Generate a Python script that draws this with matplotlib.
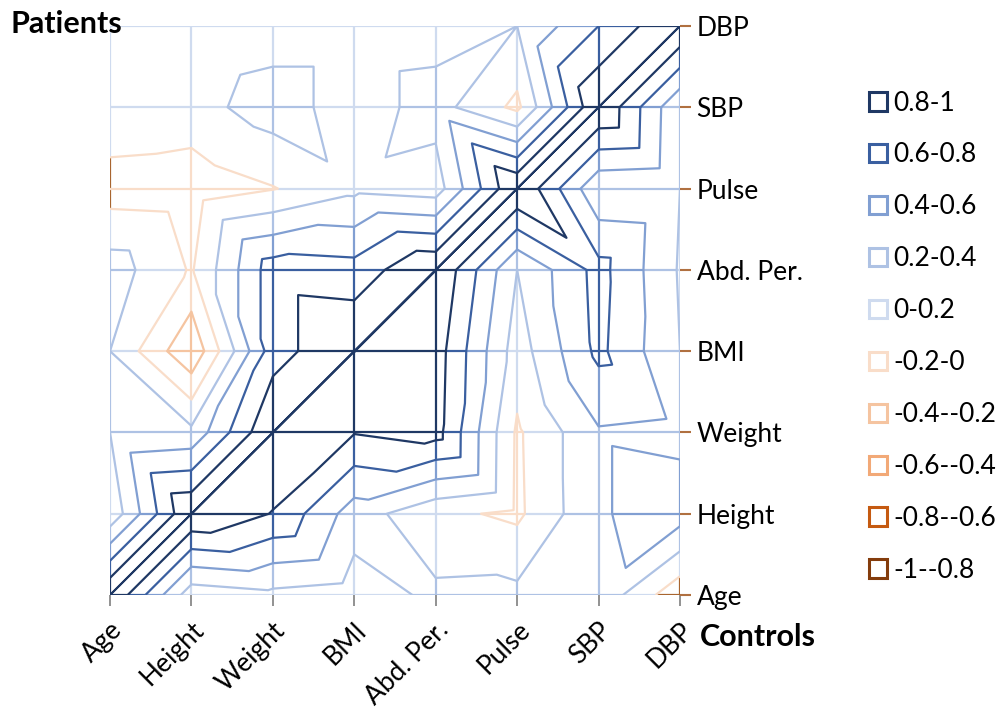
import numpy as np
import matplotlib
matplotlib.use("Agg")
import matplotlib.pyplot as plt
from matplotlib.tri import Triangulation
from matplotlib.collections import LineCollection
from matplotlib.patches import Patch

variables = ['Age', 'Height', 'Weight', 'BMI', 'Abd. Per.', 'Pulse', 'SBP', 'DBP']
# Each row: correlations of the y-axis variable with every x-axis variable.
# Right of the diagonal = Controls, left of the diagonal = Patients.
r_age    = [1.00, 0.08, 0.15, 0.10, 0.24, 0.25, 0.35, -0.15]
r_height = [0.05, 1.00, 0.79, 0.30, 0.05, -0.04, 0.38, 0.50]
r_weight = [0.20, 0.25, 1.00, 0.81, 0.88, -0.03, 0.38, 0.35]
r_bmi    = [0.20, -0.37, 0.71, 1.00, 0.90, 0.10, 0.65, 0.20]
r_abd    = [0.30, -0.02, 0.71, 0.68, 1.00, 0.20, 0.67, 0.18]
r_pulse  = [-0.10, -0.12, -0.01, 0.15, 0.10, 1.00, 0.23, 0.20]
r_sbp    = [0.16, 0.12, 0.30, 0.10, 0.28, -0.05, 1.00, 0.22]
r_dbp    = [0.10, 0.05, 0.10, 0.10, 0.12, 0.20, 0.60, 1.00]

band_labels = ['-1--0.8', '-0.8--0.6', '-0.6--0.4', '-0.4--0.2', '-0.2-0',
               '0-0.2', '0.2-0.4', '0.4-0.6', '0.6-0.8', '0.8-1']
band_colors = ['#843C0C', '#C55A11', '#F2A977', '#F5C4A0', '#F9DDC9',
               '#CFDBEF', '#AEC2E4', '#819FD2', '#3A5FA0', '#1F3864']
edge_brown = '#A8652F'

Z = np.array([r_age, r_height, r_weight, r_bmi, r_abd, r_pulse, r_sbp, r_dbp])
n = len(variables)
levels = np.round(np.arange(-1.0, 1.0001, 0.2), 2)
LW = 1.6


def band_of(v):
    return int(np.clip(np.floor((v + 1.0) / 0.2 + 1e-9), 0, 9))


def strength(b):
    return b - 5 if b >= 5 else 4 - b


fig = plt.figure(figsize=(10.05, 7.13), dpi=100)
ax = fig.add_axes([110 / 1005, 1 - 595 / 713, 570 / 1005, 569 / 713])

# ---- triangulation: each cell split along the diagonal with the larger sum
xs, ys, zs = [], [], []
for i in range(n):
    for j in range(n):
        xs.append(j); ys.append(i); zs.append(Z[i, j])
tris = []
for i in range(n - 1):
    for j in range(n - 1):
        a = i * n + j; b = i * n + j + 1
        c = (i + 1) * n + j; d = (i + 1) * n + j + 1
        if zs[a] + zs[d] >= zs[b] + zs[c]:
            tris += [[a, b, d], [a, d, c]]
        else:
            tris += [[a, b, c], [b, d, c]]
tri = Triangulation(np.array(xs, float), np.array(ys, float), np.array(tris))
zarr = np.array(zs)

# ---- mesh edges coloured by band
segs = {}
def add_edge(p0, p1, v0, v1, boundary):
    ts = [0.0]
    lo, hi = min(v0, v1), max(v0, v1)
    for L in levels[1:-1]:
        if lo < L < hi:
            ts.append((L - v0) / (v1 - v0))
    ts.append(1.0)
    ts = sorted(ts)
    for t0, t1 in zip(ts[:-1], ts[1:]):
        vm = v0 + (t0 + t1) / 2 * (v1 - v0)
        b = band_of(vm)
        q0 = (p0[0] + t0 * (p1[0] - p0[0]), p0[1] + t0 * (p1[1] - p0[1]))
        q1 = (p0[0] + t1 * (p1[0] - p0[0]), p0[1] + t1 * (p1[1] - p0[1]))
        col = edge_brown if (boundary and b <= 4) else band_colors[b]
        segs.setdefault((b, col), []).append([q0, q1])

for i in range(n):
    for j in range(n - 1):
        add_edge((j, i), (j + 1, i), Z[i, j], Z[i, j + 1], i in (0, n - 1))
for j in range(n):
    for i in range(n - 1):
        add_edge((j, i), (j, i + 1), Z[i, j], Z[i + 1, j], j in (0, n - 1))

for (b, col), s in segs.items():
    ax.add_collection(LineCollection(s, colors=col, linewidths=LW,
                                     zorder=2 + strength(b), capstyle='butt'))

# ---- contour lines
for L in levels[1:-1]:
    b = int(round((L + 1) / 0.2))
    b = b if L > 0.001 else b - 1
    ax.tricontour(tri, zarr, levels=[L], colors=[band_colors[b]],
                  linewidths=LW, linestyles='solid', zorder=2.5 + strength(b))
ax.tricontour(tri, zarr, levels=[0.999], colors=[band_colors[9]],
              linewidths=1.4, linestyles='solid', zorder=8)

ax.set_xlim(0, n - 1)
ax.set_ylim(0, n - 1)
for sp in ax.spines.values():
    sp.set_visible(False)

font = 'Lato'
fs = 19
ax.set_xticks(range(n))
ax.set_xticklabels(variables, rotation=45, ha='right', va='top',
                   rotation_mode='anchor', fontsize=fs, family=font)
ax.tick_params(axis='x', length=8, width=1.2, color='#7F7F7F', pad=8)
ax.yaxis.tick_right()
ax.set_yticks(range(n))
ax.set_yticklabels(variables, fontsize=fs, family=font)
ax.tick_params(axis='y', length=8, width=1.5, color='#B07040', pad=4)

fig.text(10 / 1005, 1 - 24 / 713, 'Patients', fontsize=22, family=font,
         weight='bold', va='center', ha='left')
fig.text(700 / 1005, 1 - 637 / 713, 'Controls', fontsize=22, family=font,
         weight='bold', va='center', ha='left')

handles = [Patch(facecolor='white', edgecolor=band_colors[k], linewidth=2.2,
                 label=band_labels[k]) for k in range(9, -1, -1)]
fig.legend(handles=handles, loc='upper left',
           bbox_to_anchor=(858 / 1005, 1 - 80 / 713), frameon=False,
           prop={'family': font, 'size': fs},
           handlelength=0.7, handleheight=0.7, handletextpad=0.25,
           labelspacing=1.02, borderaxespad=0)

fig.savefig('out.png', dpi=100, facecolor='white')
